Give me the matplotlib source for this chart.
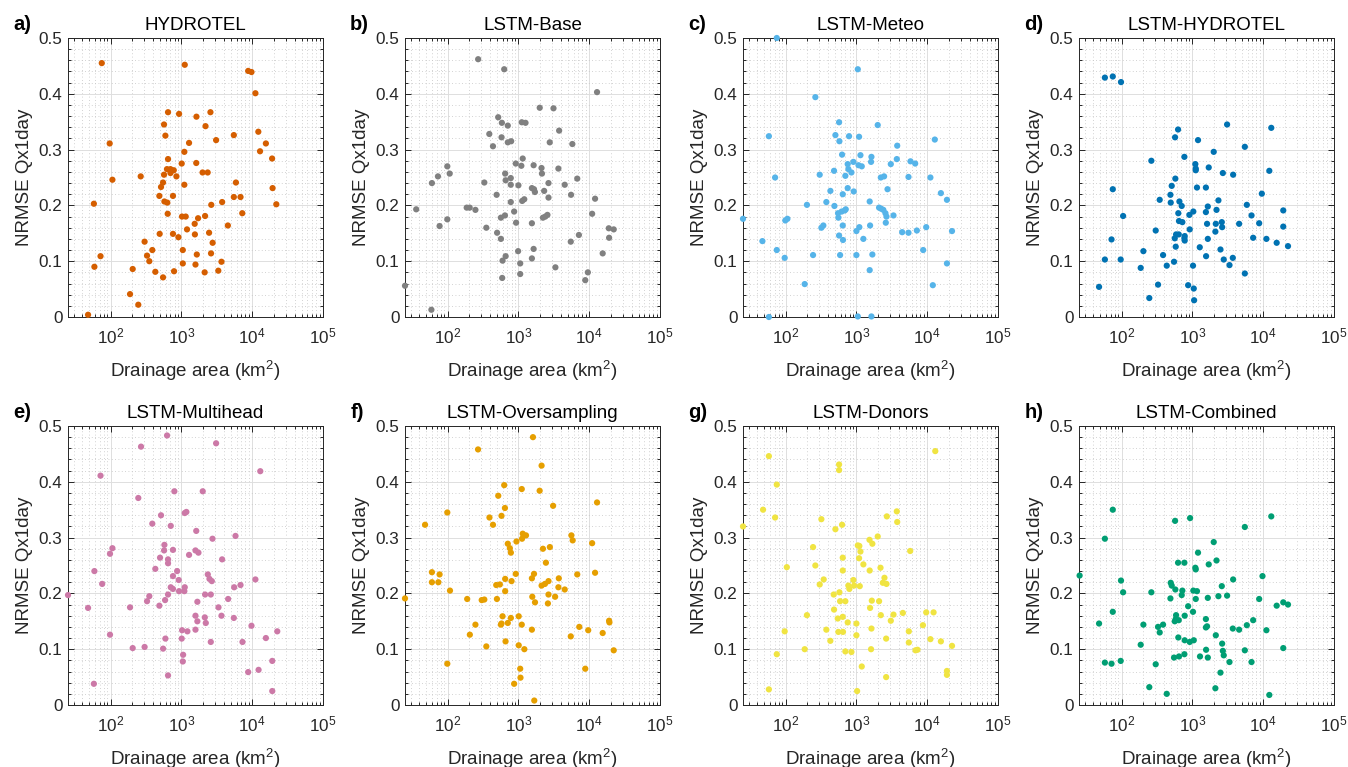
import numpy as np
import matplotlib.pyplot as plt
from matplotlib.ticker import LogLocator, MultipleLocator, NullFormatter, FuncFormatter

plt.rcParams['font.family'] = ['Liberation Sans', 'DejaVu Sans']
plt.rcParams['mathtext.fontset'] = 'custom'
plt.rcParams['mathtext.rm'] = 'Liberation Sans'

# ---- data ----
titles = ["HYDROTEL", "LSTM-Base", "LSTM-Meteo", "LSTM-HYDROTEL",
          "LSTM-Multihead", "LSTM-Oversampling", "LSTM-Donors", "LSTM-Combined"]
letters = ["a)", "b)", "c)", "d)", "e)", "f)", "g)", "h)"]
colors = ["#D55E00", "#808080", "#56B4E9", "#0072B2",
          "#CC79A7", "#E69F00", "#F0E442", "#009E73"]

area_a = [48, 75, 1115, 8770, 9770, 11100, 647, 927, 1630, 2570, 2190, 568, 594, 97, 1282,
          3090, 5500, 12200, 15600, 12900, 19100, 1100, 647, 106, 266, 625, 700, 780, 700, 850,
          568, 550, 515, 1010, 1620, 1990, 2350, 1100, 5890, 19400, 58, 488, 575, 632, 760,
          2640, 3760, 5500, 6840, 7240, 21900, 640, 1020, 1150, 1720, 2160, 1540, 1200, 4530,
          493, 760, 907, 1550, 2460, 2760, 302, 388, 1046, 327, 72, 1650, 2620, 352, 3680, 59,
          1046, 1580, 205, 428, 787, 2130, 3320, 550, 188, 246]
nrmse_a = [0.004, 0.455, 0.452, 0.441, 0.439, 0.401, 0.367, 0.364, 0.359, 0.367, 0.342, 0.345,
           0.325, 0.311, 0.312, 0.317, 0.326, 0.332, 0.311, 0.297, 0.284, 0.296, 0.283, 0.246,
           0.252, 0.265, 0.265, 0.263, 0.258, 0.252, 0.255, 0.241, 0.233, 0.275, 0.276, 0.259,
           0.259, 0.237, 0.241, 0.231, 0.203, 0.217, 0.207, 0.205, 0.217, 0.201, 0.206, 0.215,
           0.215, 0.186, 0.202, 0.185, 0.180, 0.180, 0.177, 0.181, 0.167, 0.157, 0.164, 0.149,
           0.149, 0.143, 0.148, 0.151, 0.133, 0.135, 0.120, 0.120, 0.110, 0.109, 0.112, 0.114,
           0.100, 0.099, 0.090, 0.096, 0.094, 0.086, 0.081, 0.082, 0.080, 0.083, 0.071, 0.041,
           0.022]

area_b = [25, 59, 36, 60, 73, 77, 99, 107, 99, 186, 205, 247, 330, 270, 352, 388, 437, 630,
          518, 584, 708, 578, 708, 790, 492, 650, 660, 780, 780, 780, 566, 645, 500, 566, 660,
          597, 590, 918, 1100, 1150, 1000, 870, 927, 1130, 1210, 1115, 1260, 990, 1060, 1060,
          1550, 1550, 1640, 1550, 1660, 1710, 1640, 2000, 2120, 2150, 2310, 2220, 2400, 2570,
          2660, 2660, 2770, 3130, 3330, 3760, 3670, 4510, 5490, 5540, 5780, 6780, 7150, 8790,
          9570, 11000, 12100, 12900, 15500, 18900, 19100, 22200]
nrmse_b = [0.056, 0.013, 0.193, 0.240, 0.252, 0.163, 0.270, 0.257, 0.175, 0.196, 0.196, 0.192,
           0.241, 0.462, 0.160, 0.328, 0.306, 0.444, 0.358, 0.348, 0.343, 0.322, 0.313, 0.315,
           0.219, 0.257, 0.245, 0.249, 0.237, 0.206, 0.178, 0.182, 0.151, 0.140, 0.109, 0.101,
           0.070, 0.275, 0.271, 0.284, 0.236, 0.189, 0.169, 0.208, 0.211, 0.349, 0.348, 0.118,
           0.096, 0.077, 0.168, 0.105, 0.122, 0.231, 0.229, 0.224, 0.272, 0.375, 0.267, 0.257,
           0.226, 0.178, 0.180, 0.183, 0.240, 0.214, 0.313, 0.374, 0.089, 0.334, 0.266, 0.237,
           0.135, 0.219, 0.310, 0.248, 0.147, 0.066, 0.080, 0.185, 0.212, 0.403, 0.114, 0.159,
           0.142, 0.157]

area_c = [25, 47, 58, 58, 75, 71, 75, 97, 99, 106, 186, 200, 244, 263, 303, 320, 341, 376,
          429, 483, 489, 505, 569, 575, 550, 556, 569, 588, 627, 641, 641, 646, 619, 684, 707,
          698, 753, 770, 753, 787, 850, 906, 916, 1046, 1070, 1190, 1140, 1090, 1000, 1100,
          1000, 1046, 1254, 1540, 1560, 1540, 1630, 1630, 1610, 1680, 2000, 2090, 2240, 2400,
          2210, 2460, 2570, 2660, 2600, 2750, 3060, 3340, 3720, 3770, 4430, 5440, 5440, 5810,
          6760, 7140, 8770, 9680, 11100, 12000, 12800, 15600, 19000, 19000, 22400]
nrmse_c = [0.176, 0.136, 0.000, 0.324, 0.500, 0.250, 0.120, 0.106, 0.173, 0.176, 0.059, 0.201,
           0.111, 0.394, 0.255, 0.160, 0.164, 0.206, 0.226, 0.262, 0.199, 0.326, 0.349, 0.315,
           0.186, 0.178, 0.146, 0.111, 0.291, 0.220, 0.164, 0.138, 0.189, 0.191, 0.193, 0.253,
           0.274, 0.265, 0.231, 0.324, 0.259, 0.278, 0.225, 0.444, 0.272, 0.270, 0.290, 0.323,
           0.154, 0.161, 0.111, 0.001, 0.140, 0.207, 0.164, 0.084, 0.001, 0.287, 0.278, 0.112,
           0.344, 0.196, 0.194, 0.192, 0.250, 0.252, 0.186, 0.180, 0.169, 0.229, 0.274, 0.182,
           0.283, 0.307, 0.152, 0.151, 0.251, 0.279, 0.275, 0.155, 0.120, 0.161, 0.250, 0.057,
           0.318, 0.222, 0.210, 0.096, 0.154]

area_d = [48, 58, 75, 98, 58, 72, 75, 97, 105, 186, 203, 246, 263, 303, 327, 345, 385, 434,
          489, 494, 510, 550, 574, 569, 627, 563, 588, 581, 641, 632, 655, 646, 721, 706, 770,
          778, 778, 770, 870, 916, 906, 1030, 1020, 1045, 1057, 1100, 1115, 1115, 1160, 1200,
          1270, 1550, 1550, 1560, 1610, 1650, 1650, 1700, 2000, 2110, 2190, 2140, 2330, 2490,
          2600, 2630, 2690, 2770, 3090, 3340, 3720, 3760, 4570, 5500, 5500, 5870, 6840, 7210,
          8770, 9560, 11100, 12200, 13000, 15500, 19200, 19200, 22400]
nrmse_d = [0.054, 0.429, 0.431, 0.421, 0.103, 0.139, 0.229, 0.103, 0.181, 0.088, 0.118, 0.034,
           0.280, 0.155, 0.058, 0.210, 0.111, 0.092, 0.219, 0.205, 0.235, 0.099, 0.248, 0.322,
           0.336, 0.141, 0.148, 0.126, 0.148, 0.186, 0.207, 0.172, 0.170, 0.199, 0.287, 0.145,
           0.137, 0.141, 0.057, 0.157, 0.183, 0.189, 0.092, 0.051, 0.030, 0.274, 0.266, 0.263,
           0.232, 0.317, 0.125, 0.232, 0.188, 0.109, 0.167, 0.198, 0.140, 0.268, 0.296, 0.153,
           0.192, 0.167, 0.209, 0.121, 0.170, 0.161, 0.258, 0.103, 0.345, 0.093, 0.106, 0.255,
           0.167, 0.078, 0.305, 0.201, 0.182, 0.142, 0.168, 0.221, 0.140, 0.262, 0.339, 0.133,
           0.191, 0.162, 0.127]

area_e = [25, 48, 58, 59, 72, 76, 98, 106, 98, 188, 205, 246, 269, 302, 327, 352, 388, 428,
          488, 499, 515, 551, 575, 569, 588, 594, 627, 647, 647, 647, 647, 707, 707, 760, 760,
          760, 795, 870, 916, 927, 1010, 1022, 1057, 1046, 1115, 1100, 1115, 1175, 1215, 1282,
          1580, 1580, 1580, 1620, 1680, 1680, 1740, 2000, 2140, 2160, 2210, 2360, 2490, 2690,
          2600, 2600, 2750, 3090, 3340, 3680, 3760, 4570, 5500, 5560, 5810, 6840, 7290, 8770,
          9770, 11100, 12300, 13000, 15600, 19200, 19200, 22600]
nrmse_e = [0.197, 0.174, 0.038, 0.240, 0.411, 0.217, 0.271, 0.281, 0.126, 0.175, 0.102, 0.371,
           0.463, 0.104, 0.186, 0.195, 0.325, 0.244, 0.178, 0.264, 0.340, 0.101, 0.287, 0.277,
           0.188, 0.119, 0.483, 0.261, 0.254, 0.198, 0.053, 0.321, 0.211, 0.208, 0.278, 0.231,
           0.383, 0.240, 0.224, 0.204, 0.119, 0.134, 0.090, 0.078, 0.211, 0.204, 0.344, 0.346,
           0.132, 0.269, 0.135, 0.160, 0.277, 0.312, 0.185, 0.150, 0.273, 0.383, 0.157, 0.198,
           0.147, 0.234, 0.226, 0.222, 0.198, 0.113, 0.298, 0.469, 0.175, 0.160, 0.261, 0.190,
           0.156, 0.211, 0.303, 0.215, 0.113, 0.059, 0.142, 0.225, 0.063, 0.419, 0.120, 0.079,
           0.025, 0.132]

area_f = [25, 48, 60, 60, 74, 77, 99, 99, 108, 189, 206, 247, 269, 303, 330, 352, 390, 437,
          497, 486, 547, 519, 577, 566, 577, 597, 630, 645, 650, 650, 658, 708, 708, 757, 782,
          800, 782, 870, 918, 938, 1010, 1010, 1060, 1070, 1115, 1125, 1150, 1115, 1280, 1213,
          1550, 1550, 1570, 1605, 1660, 1675, 1715, 1995, 2125, 2125, 2220, 2370, 2445, 2610,
          2660, 2660, 2780, 3090, 3300, 3720, 3670, 4510, 5490, 5600, 5840, 6780, 7240, 8790,
          9680, 11000, 12100, 12900, 15500, 19100, 19300, 22200]
nrmse_f = [0.191, 0.323, 0.238, 0.220, 0.220, 0.234, 0.345, 0.074, 0.205, 0.190, 0.126, 0.144,
           0.458, 0.188, 0.189, 0.105, 0.336, 0.323, 0.190, 0.215, 0.216, 0.375, 0.339, 0.144,
           0.146, 0.159, 0.394, 0.353, 0.226, 0.204, 0.114, 0.289, 0.147, 0.281, 0.273, 0.222,
           0.156, 0.038, 0.235, 0.293, 0.159, 0.107, 0.065, 0.049, 0.387, 0.298, 0.307, 0.144,
           0.304, 0.100, 0.135, 0.227, 0.194, 0.480, 0.235, 0.008, 0.184, 0.384, 0.429, 0.214,
           0.280, 0.217, 0.255, 0.182, 0.198, 0.222, 0.283, 0.357, 0.194, 0.227, 0.211, 0.207,
           0.123, 0.304, 0.295, 0.234, 0.140, 0.065, 0.134, 0.290, 0.237, 0.363, 0.129, 0.151,
           0.148, 0.098]

area_g = [25, 48, 58, 58, 71, 75, 75, 97, 104, 186, 200, 244, 263, 303, 320, 345, 376, 428,
          478, 483, 505, 545, 556, 569, 569, 575, 588, 627, 641, 641, 641, 646, 698, 698, 753,
          770, 795, 850, 906, 927, 1000, 1000, 1023, 1046, 1100, 1090, 1140, 1115, 1190, 1254,
          1530, 1540, 1560, 1610, 1630, 1650, 1680, 2000, 2090, 2190, 2210, 2360, 2490, 2630,
          2660, 2690, 2630, 3060, 3340, 3720, 3770, 4530, 5500, 5500, 5750, 6840, 7290, 8700,
          9680, 11100, 12300, 13000, 15600, 19000, 19000, 22400]
nrmse_g = [0.320, 0.350, 0.446, 0.028, 0.336, 0.395, 0.091, 0.132, 0.247, 0.100, 0.161, 0.283,
           0.250, 0.216, 0.333, 0.225, 0.135, 0.115, 0.198, 0.171, 0.315, 0.155, 0.131, 0.431,
           0.421, 0.202, 0.186, 0.323, 0.264, 0.241, 0.158, 0.131, 0.186, 0.096, 0.148, 0.214,
           0.208, 0.095, 0.224, 0.214, 0.146, 0.125, 0.025, 0.286, 0.285, 0.263, 0.275, 0.213,
           0.069, 0.252, 0.296, 0.241, 0.174, 0.100, 0.137, 0.187, 0.289, 0.302, 0.186, 0.246,
           0.161, 0.219, 0.228, 0.119, 0.217, 0.338, 0.050, 0.151, 0.162, 0.347, 0.328, 0.165,
           0.132, 0.112, 0.276, 0.098, 0.099, 0.143, 0.166, 0.118, 0.166, 0.455, 0.114, 0.061,
           0.054, 0.106]

area_h = [25.5, 48, 58, 58, 72, 75, 75, 97, 98, 105, 186, 203, 246, 263, 303, 327, 345, 385,
          434, 489, 494, 510, 550, 574, 569, 563, 588, 581, 641, 627, 632, 646, 721, 706, 770,
          778, 778, 770, 870, 916, 927, 1030, 1020, 1045, 1100, 1115, 1115, 1160, 1200, 1280,
          1550, 1550, 1560, 1610, 1650, 1650, 1700, 2000, 2110, 2140, 2190, 2330, 2490, 2600,
          2630, 2690, 2770, 3090, 3340, 3720, 3760, 4570, 5500, 5500, 5870, 6840, 7210, 8770,
          9770, 11100, 12200, 13000, 15500, 19200, 19200, 22400]
nrmse_h = [0.232, 0.146, 0.298, 0.076, 0.074, 0.350, 0.167, 0.079, 0.223, 0.202, 0.108, 0.144,
           0.032, 0.202, 0.073, 0.140, 0.130, 0.144, 0.020, 0.191, 0.219, 0.214, 0.085, 0.207,
           0.330, 0.150, 0.161, 0.154, 0.152, 0.255, 0.121, 0.087, 0.205, 0.197, 0.255, 0.160,
           0.116, 0.091, 0.177, 0.113, 0.335, 0.205, 0.167, 0.116, 0.246, 0.243, 0.190, 0.204,
           0.273, 0.087, 0.154, 0.139, 0.099, 0.141, 0.192, 0.085, 0.252, 0.292, 0.030, 0.125,
           0.259, 0.195, 0.058, 0.213, 0.110, 0.097, 0.089, 0.196, 0.077, 0.137, 0.225, 0.135,
           0.098, 0.319, 0.143, 0.077, 0.152, 0.190, 0.231, 0.134, 0.018, 0.338, 0.178, 0.184,
           0.102, 0.180]

areas = [area_a, area_b, area_c, area_d, area_e, area_f, area_g, area_h]
nrmses = [nrmse_a, nrmse_b, nrmse_c, nrmse_d, nrmse_e, nrmse_f, nrmse_g, nrmse_h]

x_ticks = [1e2, 1e3, 1e4, 1e5]
x_ticklabels = [r"$\mathregular{10^{2}}$", r"$\mathregular{10^{3}}$",
                r"$\mathregular{10^{4}}$", r"$\mathregular{10^{5}}$"]
y_ticks = [0, 0.1, 0.2, 0.3, 0.4, 0.5]

# ---- layout ----
W, H = 1348, 767
fig = plt.figure(figsize=(W / 100, H / 100), dpi=100)

lefts_px = [68, 405, 743, 1079]
tops_px = [38, 426]
ax_w, ax_h = 255, 279
dark = "#262626"

for i in range(8):
    row, col = i // 4, i % 4
    ax = fig.add_axes([lefts_px[col] / W, 1 - (tops_px[row] + ax_h) / H, ax_w / W, ax_h / H])
    ax.scatter(areas[i], nrmses[i], s=20, color=colors[i], edgecolors="none",
               clip_on=False, zorder=3)
    ax.set_xscale("log")
    ax.set_xlim(25, 1e5)
    ax.set_ylim(0, 0.5)
    ax.set_xticks(x_ticks)
    ax.set_xticklabels(x_ticklabels)
    ax.xaxis.set_minor_locator(LogLocator(base=10, subs=np.arange(2, 10)))
    ax.xaxis.set_minor_formatter(NullFormatter())
    ax.set_yticks(y_ticks)
    ax.yaxis.set_major_formatter(FuncFormatter(lambda v, p: "%g" % v))
    ax.yaxis.set_minor_locator(MultipleLocator(0.02))

    ax.grid(which="major", color="#dedede", lw=0.7)
    ax.grid(which="minor", color="#c4c4c4", lw=0.6, ls=(0, (1, 3)))
    ax.set_axisbelow(True)
    ax.tick_params(which="both", direction="in", top=True, right=True,
                   colors=dark, labelsize=12.3, width=0.7)
    ax.tick_params(which="major", length=4)
    ax.tick_params(which="minor", length=2)
    ax.tick_params(axis="x", pad=7)
    ax.tick_params(axis="y", pad=4)
    for sp in ax.spines.values():
        sp.set_color(dark)
        sp.set_linewidth(0.7)

    ax.set_title(titles[i], fontsize=13.5, color="black", pad=6)
    ax.set_xlabel(r"Drainage area (km$\mathregular{^2}$)", fontsize=13.5, color=dark, labelpad=9)
    ax.set_ylabel("NRMSE Qx1day", fontsize=13.5, color=dark, labelpad=4)
    ax.text(-0.215, 1.05, letters[i], transform=ax.transAxes, fontsize=14.5,
            fontweight="bold", ha="left", va="center")

fig.savefig("out.png", dpi=100)
